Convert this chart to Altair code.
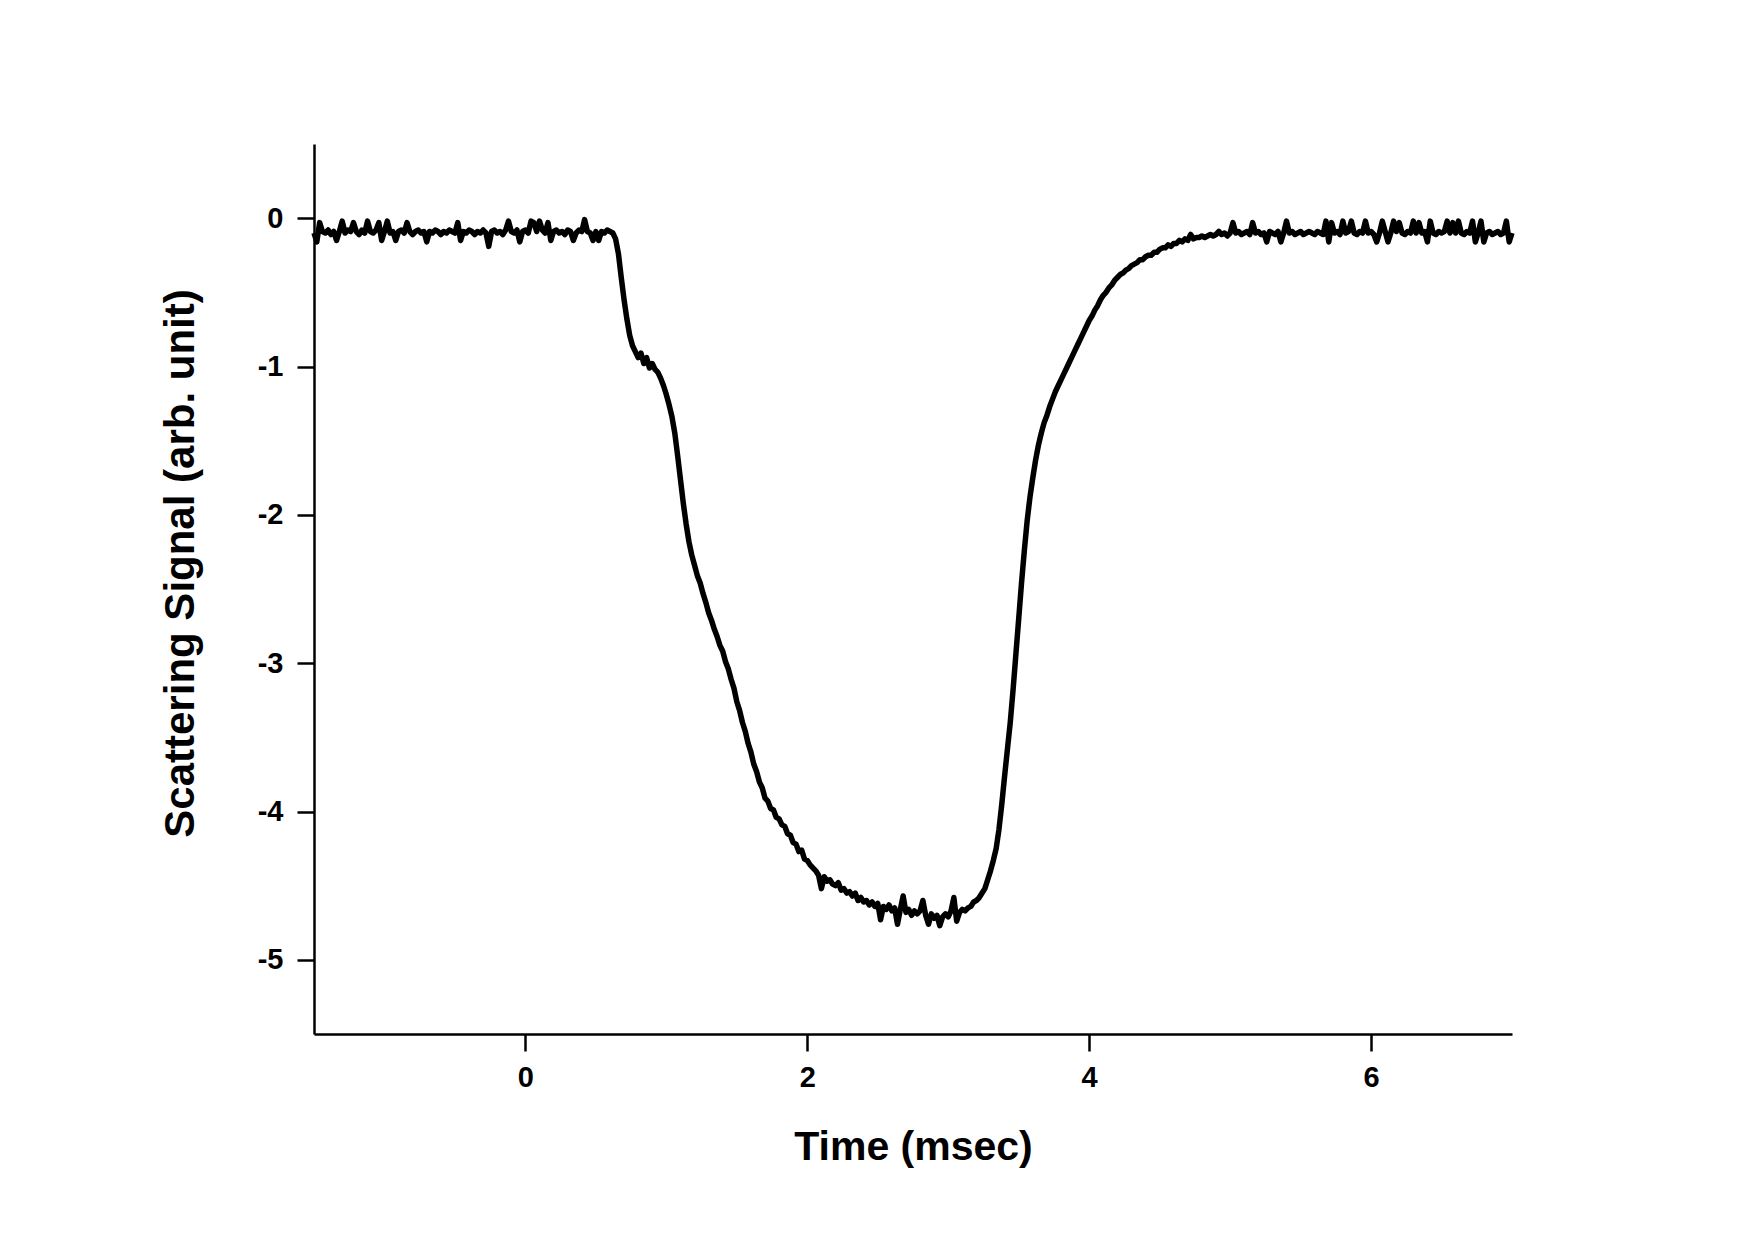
import altair as alt
import numpy as np
import pandas as pd

# Sampling grid of the trace (msec)
T_START = -1.50
T_STEP = 0.02

# Signal values (arb. unit), segment by segment
baseline_pre = [  # t = -1.50 ... 0.58
    -0.10, -0.16, -0.03, -0.09, -0.10, -0.08, -0.11, -0.09, -0.15, -0.09,
    -0.02, -0.10, -0.08, -0.09, -0.03, -0.09, -0.11, -0.08, -0.10, -0.02,
    -0.09, -0.10, -0.08, -0.03, -0.15, -0.09, -0.02, -0.10, -0.09, -0.15,
    -0.09, -0.08, -0.10, -0.03, -0.09, -0.11, -0.09, -0.08, -0.10, -0.09,
    -0.16, -0.09, -0.10, -0.08, -0.09, -0.11, -0.09, -0.10, -0.08, -0.09,
    -0.10, -0.03, -0.15, -0.09, -0.10, -0.08, -0.09, -0.11, -0.09, -0.10,
    -0.08, -0.10, -0.19, -0.09, -0.08, -0.10, -0.09, -0.11, -0.08, -0.02,
    -0.09, -0.10, -0.08, -0.16, -0.09, -0.08, -0.10, -0.02, -0.03, -0.09,
    -0.02, -0.08, -0.10, -0.03, -0.15, -0.09, -0.08, -0.10, -0.09, -0.11,
    -0.08, -0.09, -0.15, -0.10, -0.08, -0.09, -0.01, -0.09, -0.10, -0.15,
    -0.09, -0.15, -0.09, -0.10, -0.08,
]
fall_first = [  # t = 0.60 ... 1.18
    -0.09, -0.10, -0.14, -0.24, -0.40, -0.55, -0.68, -0.79, -0.86, -0.90,
    -0.94, -0.91, -0.98, -0.94, -1.01, -0.98, -1.02, -1.04, -1.08, -1.13,
    -1.19, -1.26, -1.34, -1.45, -1.60, -1.76, -1.92, -2.06, -2.18, -2.27,
]
fall_second = [  # t = 1.20 ... 1.98
    -2.34, -2.41, -2.46, -2.53, -2.59, -2.66, -2.71, -2.77, -2.82, -2.88,
    -2.92, -2.99, -3.04, -3.11, -3.17, -3.26, -3.32, -3.40, -3.46, -3.54,
    -3.60, -3.68, -3.73, -3.80, -3.84, -3.91, -3.93, -3.98, -3.99, -4.04,
    -4.05, -4.09, -4.10, -4.15, -4.16, -4.21, -4.22, -4.27, -4.26, -4.32,
]
bottom = [  # t = 2.00 ... 3.18
    -4.33, -4.36, -4.38, -4.40, -4.43, -4.52, -4.44, -4.47, -4.46, -4.49,
    -4.50, -4.48, -4.53, -4.52, -4.55, -4.54, -4.57, -4.55, -4.60, -4.58,
    -4.61, -4.60, -4.63, -4.61, -4.64, -4.62, -4.73, -4.64, -4.66, -4.63,
    -4.67, -4.65, -4.76, -4.66, -4.57, -4.68, -4.66, -4.70, -4.67, -4.69,
    -4.67, -4.60, -4.70, -4.76, -4.69, -4.72, -4.70, -4.77, -4.71, -4.69,
    -4.71, -4.67, -4.58, -4.74, -4.68, -4.66, -4.67, -4.65, -4.64, -4.61,
]
rise = [  # t = 3.20 ... 4.18
    -4.60, -4.58, -4.55, -4.52, -4.46, -4.40, -4.33, -4.25, -4.12, -3.95,
    -3.76, -3.58, -3.40, -3.18, -2.94, -2.70, -2.46, -2.24, -2.04, -1.88,
    -1.75, -1.63, -1.53, -1.45, -1.38, -1.33, -1.27, -1.22, -1.17, -1.13,
    -1.09, -1.05, -1.01, -0.97, -0.93, -0.89, -0.85, -0.81, -0.77, -0.73,
    -0.69, -0.66, -0.62, -0.59, -0.55, -0.52, -0.50, -0.47, -0.45, -0.42,
]
recovery = [  # t = 4.20 ... 5.00
    -0.40, -0.38, -0.37, -0.35, -0.34, -0.32, -0.31, -0.30, -0.28, -0.28,
    -0.26, -0.25, -0.25, -0.23, -0.23, -0.21, -0.20, -0.20, -0.18, -0.19,
    -0.17, -0.17, -0.15, -0.16, -0.14, -0.15, -0.11, -0.14, -0.13, -0.13,
    -0.12, -0.13, -0.12, -0.11, -0.12, -0.11, -0.09, -0.11, -0.10, -0.12,
    -0.10,
]
baseline_post = [  # t = 5.02 ... 7.00
    -0.03, -0.10, -0.09, -0.11, -0.10, -0.09, -0.11, -0.03, -0.10, -0.09,
    -0.11, -0.10, -0.16, -0.09, -0.10, -0.11, -0.09, -0.16, -0.10, -0.02,
    -0.10, -0.09, -0.11, -0.10, -0.09, -0.11, -0.10, -0.09, -0.10, -0.11,
    -0.09, -0.10, -0.11, -0.02, -0.16, -0.03, -0.10, -0.09, -0.11, -0.02,
    -0.10, -0.09, -0.02, -0.10, -0.11, -0.09, -0.10, -0.02, -0.10, -0.09,
    -0.11, -0.16, -0.10, -0.02, -0.09, -0.16, -0.10, -0.02, -0.09, -0.03,
    -0.10, -0.11, -0.09, -0.10, -0.02, -0.10, -0.03, -0.10, -0.09, -0.16,
    -0.02, -0.10, -0.11, -0.09, -0.10, -0.09, -0.02, -0.10, -0.03, -0.10,
    -0.02, -0.10, -0.11, -0.09, -0.10, -0.02, -0.16, -0.10, -0.02, -0.16,
    -0.10, -0.09, -0.11, -0.10, -0.09, -0.11, -0.10, -0.02, -0.16, -0.10,
]

x_ticks = [0, 2, 4, 6]
y_ticks = [0, -1, -2, -3, -4, -5]

signal = (baseline_pre + fall_first + fall_second + bottom + rise
          + recovery + baseline_post)
times = np.round(T_START + T_STEP * np.arange(len(signal)), 2)
df = pd.DataFrame({"t": times, "v": signal})

FONT = "Liberation Sans"

chart = (
    alt.Chart(df)
    .mark_line(color="black", strokeWidth=5.5, strokeJoin="round")
    .encode(
        x=alt.X(
            "t:Q",
            scale=alt.Scale(domain=[-1.5, 7], nice=False, zero=False),
            axis=alt.Axis(
                values=x_ticks,
                title="Time (msec)",
                labelPadding=12,
                titleBaseline="alphabetic",
                titleY=125,
                titleFontSize=41,
            ),
        ),
        y=alt.Y(
            "v:Q",
            scale=alt.Scale(domain=[-5.5, 0.5], nice=False, zero=False),
            axis=alt.Axis(
                values=y_ticks,
                title="Scattering Signal (arb. unit)",
                labelPadding=14,
                titleBaseline="alphabetic",
                titleX=-121,
                titleY=419,
                titleFontSize=42,
            ),
        ),
        order="t:Q",
    )
    .properties(
        width=1198,
        height=890,
        padding={"left": 306, "top": 136, "right": 200, "bottom": 180},
        autosize=alt.AutoSizeParams(type="none"),
    )
    .configure_view(stroke=None)
    .configure_axis(
        grid=False,
        domainColor="black",
        domainWidth=2.5,
        tickColor="black",
        tickWidth=2.5,
        tickSize=17,
        labelFont=FONT,
        labelFontSize=29,
        labelFontWeight="bold",
        labelColor="black",
        labelExpr="toString(datum.value)",
        titleFont=FONT,
        titleFontWeight="bold",
        titleColor="black",
    )
)

chart.save("out.html", embed_options={"renderer": "svg", "actions": False})
